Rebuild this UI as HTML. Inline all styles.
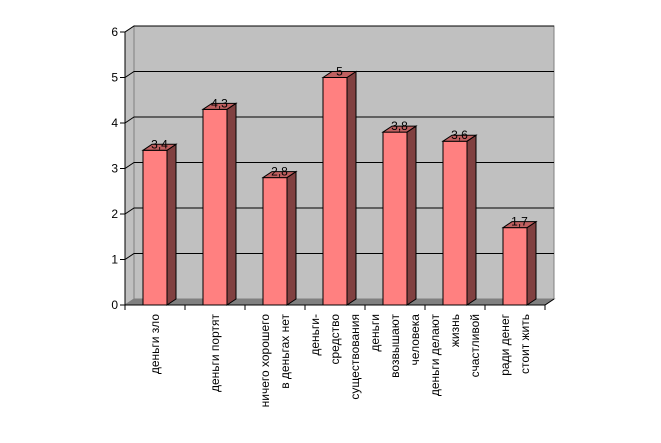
<!DOCTYPE html>
<html><head><meta charset="utf-8"><style>
html,body{margin:0;padding:0;background:#fff;}
svg{display:block;font-family:"Liberation Sans",Arial,sans-serif;}
</style></head><body>
<svg id="chart" width="661" height="443" viewBox="0 0 661 443" xmlns="http://www.w3.org/2000/svg">
<g id="walls"></g>
<g id="grid"></g>
<g id="bars"></g>
<g id="axes"></g>
<g id="labels"></g>
</svg>
<script>
const categories = [["деньги зло"],["деньги портят"],["ничего хорошего","в деньгах нет"],["деньги-","средство","существования"],["деньги","возвышают","человека"],["деньги делают","жизнь","счастливой"],["ради денег","стоит жить"]];
const values = [3.4,4.3,2.8,5,3.8,3.6,1.7];
const valueLabels = ["3,4","4,3","2,8","5","3,8","3,6","1,7"];
const yTicks = [0,1,2,3,4,5,6];

const NS="http://www.w3.org/2000/svg";
const X0=125, Y0=305, UNIT=45.5, CW=60, BW=24, DX=9, DY=-6, XEND=X0+CW*categories.length;
const y=v=>Y0-v*UNIT;
const xc=i=>X0+CW*i+CW/2;
function mk(parent,tag,attrs){const e=document.createElementNS(NS,tag);for(const k in attrs)e.setAttribute(k,attrs[k]);document.getElementById(parent).appendChild(e);return e;}

// walls
let w=mk('walls','polygon',{points:`${X0+DX},${y(6)+DY} ${XEND+DX},${y(6)+DY} ${XEND+DX},${Y0+DY} ${X0+DX},${Y0+DY}`,fill:'#c0c0c0',stroke:'#808080','stroke-width':1});


w=mk('walls','polygon',{points:`${X0},${y(6)} ${X0+DX},${y(6)+DY} ${X0+DX},${Y0+DY} ${X0},${Y0}`,fill:'#c0c0c0',stroke:'#808080','stroke-width':1});


w=mk('walls','polygon',{points:`${X0},${Y0} ${X0+DX},${Y0+DY} ${XEND+DX},${Y0+DY} ${XEND},${Y0}`,fill:'#808080',stroke:'#808080','stroke-width':1});



// gridlines
yTicks.forEach(t=>{
  if(t===0)return;
  const g=mk('grid','polyline',{points:`${X0},${y(t)} ${X0+DX},${y(t)+DY} ${XEND+DX},${y(t)+DY}`,fill:'none',stroke:'#000','stroke-width':1});
  
  
});

// bars
values.forEach((v,i)=>{
  const l=xc(i)-BW/2, r=l+BW, t=y(v);
  const f=mk('bars','rect',{x:l,y:t,width:BW,height:Y0-t,fill:'#ff8080',stroke:'#000','stroke-width':1});
  
  
  const s=mk('bars','polygon',{points:`${r},${t} ${r+DX},${t+DY} ${r+DX},${Y0+DY} ${r},${Y0}`,fill:'#804040',stroke:'#000','stroke-width':1});
  
  
  const tp=mk('bars','polygon',{points:`${l},${t} ${l+DX},${t+DY} ${r+DX},${t+DY} ${r},${t}`,fill:'#c06060',stroke:'#000','stroke-width':1});
  
  
  const lb=mk('labels','text',{x:xc(i)+DX/2,y:t+DY+4,'text-anchor':'middle','font-size':12,fill:'#000'});
  lb.textContent=valueLabels[i];
  
  
});

// axes
let a=mk('axes','line',{x1:X0,y1:y(6),x2:X0,y2:Y0,stroke:'#000','stroke-width':1});


a=mk('axes','polyline',{points:`${X0},${Y0} ${XEND},${Y0} ${XEND+DX},${Y0+DY}`,fill:'none',stroke:'#000','stroke-width':1});


yTicks.forEach(t=>{
  const tk=mk('axes','line',{x1:X0-5,y1:y(t),x2:X0,y2:y(t),stroke:'#000'});
  
  
  const tl=mk('axes','text',{x:X0-7,y:y(t)+4,'text-anchor':'end','font-size':12});
  tl.textContent=t;
  
  
});
for(let i=0;i<=categories.length;i++){
  const tk=mk('axes','line',{x1:X0+CW*i,y1:Y0,x2:X0+CW*i,y2:Y0+5,stroke:'#000'});
  
  
}
categories.forEach((lines,i)=>{
  const n=lines.length;
  lines.forEach((ln,j)=>{
    const cx=xc(i)+(j-(n-1)/2)*20+4;
    const tx=mk('axes','text',{x:0,y:0,'text-anchor':'end','font-size':12,transform:`translate(${cx},314) rotate(-90)`});
    tx.textContent=ln;
    
    
  });
});
</script>
</body></html>
